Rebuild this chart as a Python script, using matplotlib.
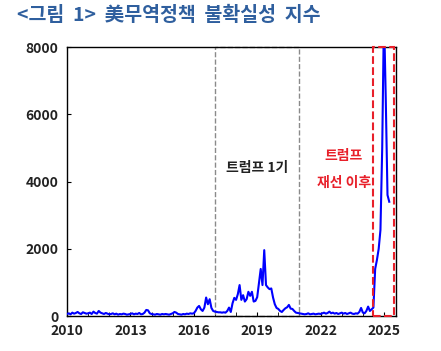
import numpy as np
import matplotlib
matplotlib.use('Agg')
from matplotlib import pyplot as plt
from matplotlib.patches import Rectangle

plt.rcParams['font.family'] = ['Noto Sans CJK KR', 'DejaVu Sans']

# monthly index values, Jan 2010 .. Apr 2025
start_year = 2010
idx_2010 = [60, 80, 50, 100, 70, 90, 120, 80, 60, 110, 90, 70]
idx_2011 = [80, 100, 60, 130, 90, 70, 150, 100, 80, 60, 90, 70]
idx_2012 = [50, 60, 80, 50, 70, 40, 60, 50, 70, 60, 40, 50]
idx_2013 = [60, 80, 50, 70, 60, 90, 50, 60, 100, 180, 170, 80]
idx_2014 = [60, 50, 40, 60, 50, 40, 60, 50, 60, 50, 40, 60]
idx_2015 = [80, 120, 100, 60, 50, 40, 60, 50, 70, 60, 80, 70]
idx_2016 = [80, 150, 250, 300, 200, 150, 250, 550, 350, 500, 240, 150]
idx_2017 = [130, 120, 110, 110, 100, 110, 100, 150, 250, 120, 380, 540]
idx_2018 = [480, 650, 920, 480, 620, 430, 500, 720, 600, 720, 430, 450]
idx_2019 = [560, 970, 1400, 920, 1960, 920, 850, 800, 820, 550, 350, 240]
idx_2020 = [210, 150, 120, 180, 230, 260, 330, 220, 210, 150, 100, 90]
idx_2021 = [80, 70, 60, 50, 60, 80, 50, 60, 70, 50, 60, 70]
idx_2022 = [60, 80, 100, 70, 90, 130, 80, 100, 70, 90, 60, 80]
idx_2023 = [100, 70, 90, 60, 80, 100, 70, 60, 80, 70, 120, 240]
idx_2024 = [100, 80, 150, 280, 150, 200, 250, 1400, 1670, 2000, 2560, 5000]
idx_2025 = [9000, 6500, 3600, 3400]

values = (idx_2010 + idx_2011 + idx_2012 + idx_2013 + idx_2014 + idx_2015 +
          idx_2016 + idx_2017 + idx_2018 + idx_2019 + idx_2020 + idx_2021 +
          idx_2022 + idx_2023 + idx_2024 + idx_2025)
dates = start_year + np.arange(len(values)) / 12

year_ticks = [2010, 2013, 2016, 2019, 2022, 2025]
y_ticks = [0, 2000, 4000, 6000, 8000]

trump1 = (2017, 2021)
trump2 = (2024.5, 2025.49)

fig = plt.figure(figsize=(4.41, 3.51), dpi=100)
ax = fig.add_axes([0.152, 0.0997, 0.746, 0.766])

ax.plot(dates, values, color='#0000ff', lw=1.5, zorder=3)

ax.set_xlim(2010, 2025.57)
ax.set_ylim(0, 8000)

# shaded periods
ax.add_patch(Rectangle((trump1[0], 0), trump1[1] - trump1[0], 8000, fill=False,
                       edgecolor='#8a8a8a', ls='--', lw=1.0, zorder=2, clip_on=False))
ax.add_patch(Rectangle((trump2[0], 0), trump2[1] - trump2[0], 8000, fill=False,
                       edgecolor='#e8202a', ls='--', lw=1.5, zorder=4, clip_on=False))

ax.text(2019.0, 4400, '트럼프 1기', ha='center', va='center', fontsize=10,
        fontweight='bold', color='#222222')
ax.text(2023.1, 4750, '트럼프', ha='center', va='center', fontsize=10,
        fontweight='bold', color='#e8202a')
ax.text(2023.1, 3950, '재선 이후', ha='center', va='center', fontsize=10,
        fontweight='bold', color='#e8202a')

ax.set_xticks(year_ticks)
ax.set_xticks(range(2010, 2026), minor=True)
ax.set_yticks(y_ticks)
ax.tick_params(axis='both', which='major', direction='in', length=3, labelsize=10, pad=6)
ax.tick_params(axis='x', which='minor', direction='in', length=3)
for lab in ax.get_xticklabels() + ax.get_yticklabels():
    lab.set_fontweight('bold')
    lab.set_color('#222222')
for s in ax.spines.values():
    s.set_linewidth(1.0)

fig.text(0.038, 0.955, '<그림  1>  美무역정책  불확실성  지수', fontsize=14,
         fontweight='bold', color='#2f5f9e', va='center')

plt.savefig('out.png', dpi=100)
